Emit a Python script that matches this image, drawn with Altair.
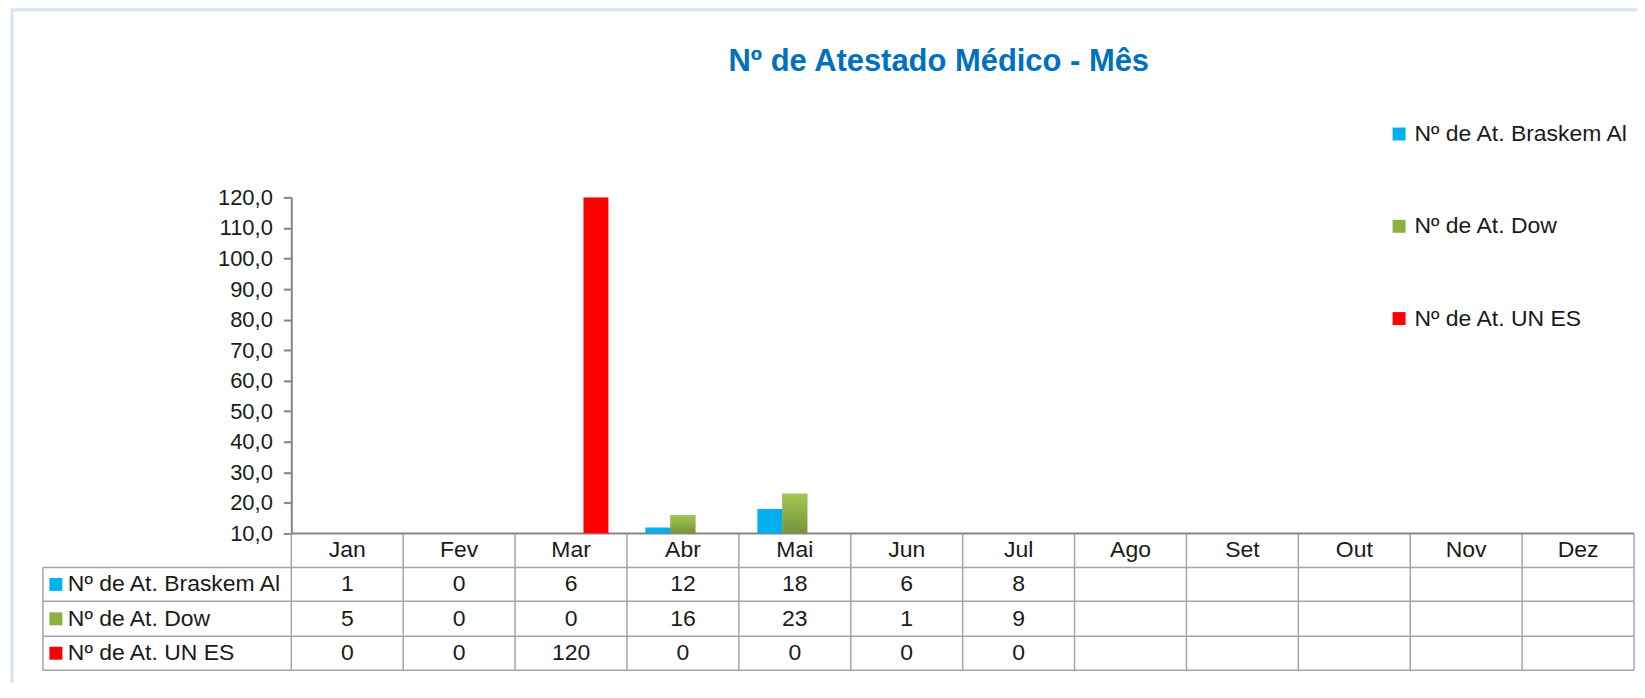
import altair as alt
import pandas as pd

F = "Liberation Sans"

title_text = "Nº de Atestado Médico - Mês"
months = ["Jan", "Fev", "Mar", "Abr", "Mai", "Jun", "Jul", "Ago", "Set", "Out", "Nov", "Dez"]
series = ["Nº de At. Braskem Al", "Nº de At. Dow", "Nº de At. UN ES"]
braskem = [1, 0, 6, 12, 18, 6, 8]
dow = [5, 0, 0, 16, 23, 1, 9]
un_es = [0, 0, 120, 0, 0, 0, 0]
colors = ["#00B0F0", "#8DB043", "#FF0000"]
y_ticks = [10, 20, 30, 40, 50, 60, 70, 80, 90, 100, 110, 120]

rows = []
for s, vals in zip(series, [braskem, dow, un_es]):
    for m, v in zip(months, vals):
        rows.append({"mes": m, "serie": s, "valor": v})
df = pd.DataFrame(rows)
month_df = pd.DataFrame({"mes": months})
series_df = pd.DataFrame({"serie": series})
bound_df = pd.DataFrame({"i": list(range(len(months) + 1))})
title_df = pd.DataFrame({"t": [title_text]})
one = pd.DataFrame({"k": [0]})

W, H = 1346, 337
GRID = "#A6A6A6"
AXC = "#868686"
TXT = "#1a1a1a"
FS = 23

band_scale = alt.Scale(domain=months, paddingInner=0.331, paddingOuter=0.165)
x_band = alt.X("mes:N", sort=months, scale=band_scale, axis=None)
xoff = alt.XOffset("serie:N", sort=series,
                   scale=alt.Scale(domain=series, paddingInner=0, paddingOuter=0))
y_scale = alt.Scale(domain=[10, 120], zero=False, nice=False)
y_axis = alt.Axis(values=y_ticks,
                  labelExpr="replace(format(datum.value, '.1f'), '.', ',')",
                  grid=False, domainColor=AXC, domainWidth=2, tickColor=AXC,
                  tickWidth=2, tickSize=8, labelPadding=11, labelFontSize=22,
                  labelFont=F, labelColor=TXT, title=None)
legend = alt.Legend(title=None, orient="none", legendX=1099, legendY=-75,
                    direction="vertical", symbolType="square", symbolSize=169,
                    symbolStrokeWidth=0, labelFontSize=FS, labelFont=F,
                    labelColor=TXT, labelOffset=4, rowPadding=68.5, padding=0,
                    labelLimit=500)
color = alt.Color("serie:N", sort=series,
                  scale=alt.Scale(domain=series, range=colors), legend=legend)

frame = alt.Chart(one).mark_rect(filled=False, stroke="#D5E3F5", strokeWidth=3).encode(
    x=alt.value(-280), x2=alt.value(1400), y=alt.value(-188), y2=alt.value(800))

title = alt.Chart(title_df).mark_text(
    font=F, fontSize=31, fontWeight="bold", color="#0070C0",
    align="center", baseline="alphabetic"
).encode(x=alt.value(649), y=alt.value(-127), text="t:N")

bars = alt.Chart(df).mark_bar(clip=True).encode(
    x=x_band, xOffset=xoff,
    y=alt.Y("valor:Q", scale=y_scale, axis=y_axis),
    y2=alt.datum(10),
    color=color)

dow_grad = alt.Gradient(gradient="linear", x1=0, y1=0, x2=0, y2=1,
                        stops=[alt.GradientStop(color="#A3C852", offset=0),
                               alt.GradientStop(color="#76923C", offset=1)])
dow_bars = alt.Chart(df).transform_filter(
    alt.datum.serie == series[1]
).mark_bar(clip=True, color=dow_grad).encode(
    x=x_band, xOffset=xoff,
    y=alt.Y("valor:Q", scale=y_scale, axis=None),
    y2=alt.datum(10))

# data table under the plot
vlines = alt.Chart(bound_df).mark_rule(color=GRID, strokeWidth=1.5).encode(
    x=alt.X("i:Q", scale=alt.Scale(domain=[0, len(months)], nice=False, zero=False), axis=None),
    y=alt.value(H), y2=alt.value(474))
left_line = alt.Chart(one).mark_rule(color=GRID, strokeWidth=1.5).encode(
    x=alt.value(-249), y=alt.value(371), y2=alt.value(474))


def hline(yv, x0, col=GRID, w=1.5):
    return alt.Chart(one).mark_rule(color=col, strokeWidth=w).encode(
        x=alt.value(x0), x2=alt.value(W), y=alt.value(yv))


hlines = [hline(371, -249), hline(405, -249), hline(440, -249), hline(474, -249),
          hline(H, 0, AXC, 2)]

pt_x = alt.X("mes:N", sort=months, scale=alt.Scale(type="point", domain=months, padding=0.5), axis=None)
row_y = alt.Y("serie:N", sort=series,
              scale=alt.Scale(type="point", domain=series, range=[388, 457], padding=0),
              axis=None)

header = alt.Chart(month_df).mark_text(fontSize=FS, font=F, color=TXT).encode(
    x=pt_x, y=alt.value(354), text="mes:N")
cells = alt.Chart(df).mark_text(fontSize=FS, font=F, color=TXT).encode(
    x=pt_x, y=row_y, text="valor:Q")
row_labels = alt.Chart(series_df).mark_text(fontSize=FS, font=F, color=TXT, align="left").encode(
    x=alt.value(-224), y=row_y, text="serie:N")
swatches = alt.Chart(series_df).mark_square(size=169, opacity=1, strokeWidth=0).encode(
    x=alt.value(-236), y=row_y, color=color)

chart = alt.layer(
    frame, title, vlines, left_line, *hlines, bars, dow_bars, header, cells, row_labels, swatches
).resolve_scale(
    x="independent", y="independent"
).properties(
    width=W, height=H,
    autosize=alt.AutoSizeParams(type="none"),
    padding={"left": 284, "top": 189, "right": 3, "bottom": 149},
    background="white",
).configure_view(stroke=None)

chart.save("out.html", embed_options={"renderer": "svg", "actions": False})
